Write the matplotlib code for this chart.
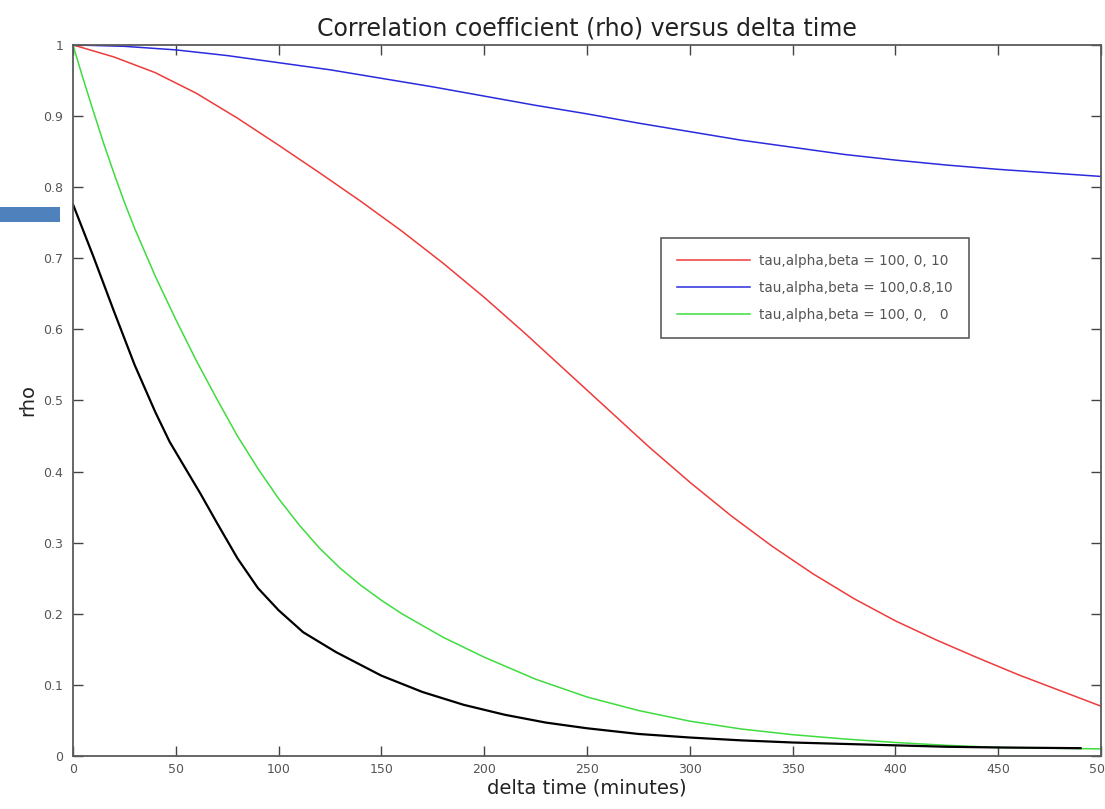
import numpy as np
import matplotlib
matplotlib.use("Agg")
import matplotlib.pyplot as plt
import matplotlib.patches as mpatches

# values
t_red = [0, 20, 40, 60, 80, 100, 120, 140, 160, 180, 200, 220, 240, 260, 280,
         300, 320, 340, 360, 380, 400, 420, 440, 460, 480, 500]
rho_red = [1.0, 0.983, 0.961, 0.932, 0.897, 0.859, 0.82, 0.78, 0.738, 0.693, 0.645, 0.594, 0.541, 0.488, 0.435,
           0.385, 0.338, 0.295, 0.256, 0.221, 0.19, 0.163, 0.138, 0.114, 0.092, 0.07]

t_blue = [0, 25, 50, 75, 100, 125, 150, 175, 200, 225, 250, 275, 300, 325, 350, 375, 400, 425, 450, 475, 500]
rho_blue = [1.0, 0.998, 0.993, 0.985, 0.975, 0.965, 0.953, 0.941, 0.928, 0.915, 0.903, 0.89, 0.878, 0.866,
            0.856, 0.846, 0.838, 0.831, 0.825, 0.82, 0.815]

t_green = [0, 5, 10, 15, 20, 25, 30, 40, 50, 60, 70, 80, 90, 100, 110, 120, 130, 140, 150, 160, 180, 200,
           225, 250, 275, 300, 325, 350, 375, 400, 425, 450, 475, 500]
rho_green = [1.0, 0.952, 0.906, 0.861, 0.819, 0.779, 0.742, 0.675, 0.614, 0.556, 0.502, 0.45, 0.404, 0.362,
             0.325, 0.292, 0.264, 0.24, 0.219, 0.2, 0.167, 0.139, 0.108, 0.083, 0.064, 0.049, 0.038, 0.03,
             0.024, 0.019, 0.015, 0.012, 0.011, 0.01]

t_black = [0, 10, 20, 30, 40, 47, 55, 62, 70, 80, 90, 100, 112, 128, 150, 170, 190, 210, 230, 250,
           275, 300, 325, 350, 375, 400, 425, 450, 490]
rho_black = [0.776, 0.702, 0.625, 0.55, 0.484, 0.442, 0.403, 0.369, 0.328, 0.278, 0.236, 0.205, 0.174, 0.146,
             0.113, 0.09, 0.072, 0.058, 0.047, 0.039, 0.031, 0.026, 0.022, 0.019, 0.017, 0.015, 0.013, 0.012, 0.011]

labels = ["tau,alpha,beta = 100, 0, 10",
          "tau,alpha,beta = 100,0.8,10",
          "tau,alpha,beta = 100, 0,   0"]

x_ticks = [0, 50, 100, 150, 200, 250, 300, 350, 400, 450, 500]
y_ticks = [0, 0.1, 0.2, 0.3, 0.4, 0.5, 0.6, 0.7, 0.8, 0.9, 1]
y_ticklabels = ["0", "0.1", "0.2", "0.3", "0.4", "0.5", "0.6", "0.7", "0.8", "0.9", "1"]

plt.rcParams['font.family'] = ['DejaVu Sans']

fig = plt.figure(figsize=(11.05, 8.09), dpi=100)
ax = fig.add_axes([0.066, 0.0655, 0.9305, 0.879])

ax.plot(t_red, rho_red, color="#ee3b3b", lw=1.1, label=labels[0])
ax.plot(t_blue, rho_blue, color="#2b2bdd", lw=1.1, label=labels[1])
ax.plot(t_green, rho_green, color="#3fdc3f", lw=1.1, label=labels[2])
ax.plot(t_black, rho_black, color="black", lw=1.6)

ax.set_xlim(0, 500)
ax.set_ylim(0, 1)
ax.set_xticks(x_ticks)
ax.set_yticks(y_ticks)
ax.set_yticklabels(y_ticklabels)
ax.tick_params(direction="in", length=7, width=1, colors="#444444", labelcolor="#555555",
               labelsize=9, top=True, right=True)
ax.tick_params(axis="y", pad=7)
ax.tick_params(axis="x", pad=5)
for s in ax.spines.values():
    s.set_color("#5a5a5a")
    s.set_linewidth(1.3)

ax.set_title("Correlation coefficient (rho) versus delta time", fontsize=17, color="#222222", pad=7)
ax.set_xlabel("delta time (minutes)", fontsize=14, color="#222222", labelpad=2)
ax.set_ylabel("rho", fontsize=14, color="#222222", labelpad=4)

leg = ax.legend(loc="upper left", bbox_to_anchor=(0.572, 0.7286), fontsize=9.8,
                fancybox=False, shadow=False, handlelength=5.3, handletextpad=0.7,
                labelspacing=0.95, borderpad=1.2, borderaxespad=0)
leg.get_frame().set_edgecolor("#333333")
leg.get_frame().set_linewidth(1.2)
for txt in leg.get_texts():
    txt.set_color("#555555")

# blue bar at the left edge of the picture
fig.patches.append(mpatches.Rectangle((0, 0.7256), 0.0543, 0.0185, transform=fig.transFigure,
                                      facecolor="#4F81BD", edgecolor="none"))

fig.savefig("out.png", dpi=100)
